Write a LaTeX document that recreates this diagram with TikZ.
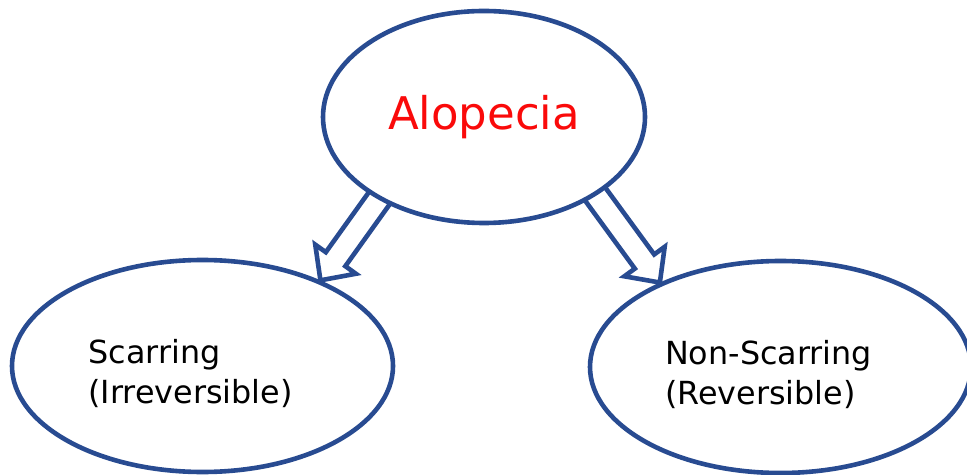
\documentclass[tikz,border=0pt]{standalone}
\usepackage{fontspec}
\setmainfont{DejaVu Sans}
\usetikzlibrary{positioning, shapes.geometric, calc, backgrounds}
\definecolor{ringblue}{RGB}{40,75,145}
\definecolor{titlered}{RGB}{250,10,10}

\newcommand{\hollowarrow}[2]{%
  \coordinate (tail) at ($(#1)!-8pt!(#2)$);
  \coordinate (neck) at ($(#2)!13pt!(#1)$);
  \draw[arrowline] ($(tail)!6pt!90:(#2)$) -- ($(neck)!6pt!90:(#2)$) -- ($(neck)!12.5pt!90:(#2)$)
    -- (#2) -- ($(neck)!12.5pt!-90:(#2)$) -- ($(neck)!6pt!-90:(#2)$) -- ($(tail)!6pt!-90:(#2)$);
}

\begin{document}
\begin{tikzpicture}[main/.style = {draw=ringblue, line width=2.3pt, ellipse, fill=white, inner sep=0pt, minimum height=106pt},
	sidetext/.style = {align=left, font=\fontsize{15.9}{20}\selectfont, xshift=-6pt, yshift=-4pt},
	arrowline/.style = {draw=ringblue, line width=2.3pt, line join=miter}, on grid]
	\useasboundingbox (0,0) rectangle (483.5pt,-237.5pt);
	\node[main, minimum width=161pt, label={[text=titlered, font=\fontsize{22.5}{26}\selectfont]center:Alopecia}] (alopecia) at (242pt,-58.5pt) {};
	\node[main, minimum width=190.5pt, label={[sidetext]center:Scarring\\(Irreversible)}] (scarring) [below left=124.5pt and 140.75pt of alopecia] {};
	\node[main, minimum width=190.5pt, label={[sidetext]center:Non-Scarring\\(Reversible)}] (nonscarring) [below right=125pt and 148.25pt of alopecia] {};
	\begin{scope}[on background layer]
		\hollowarrow{alopecia.218}{scarring.36}
		\hollowarrow{alopecia.325}{nonscarring.145}
	\end{scope}
\end{tikzpicture}
\end{document}
